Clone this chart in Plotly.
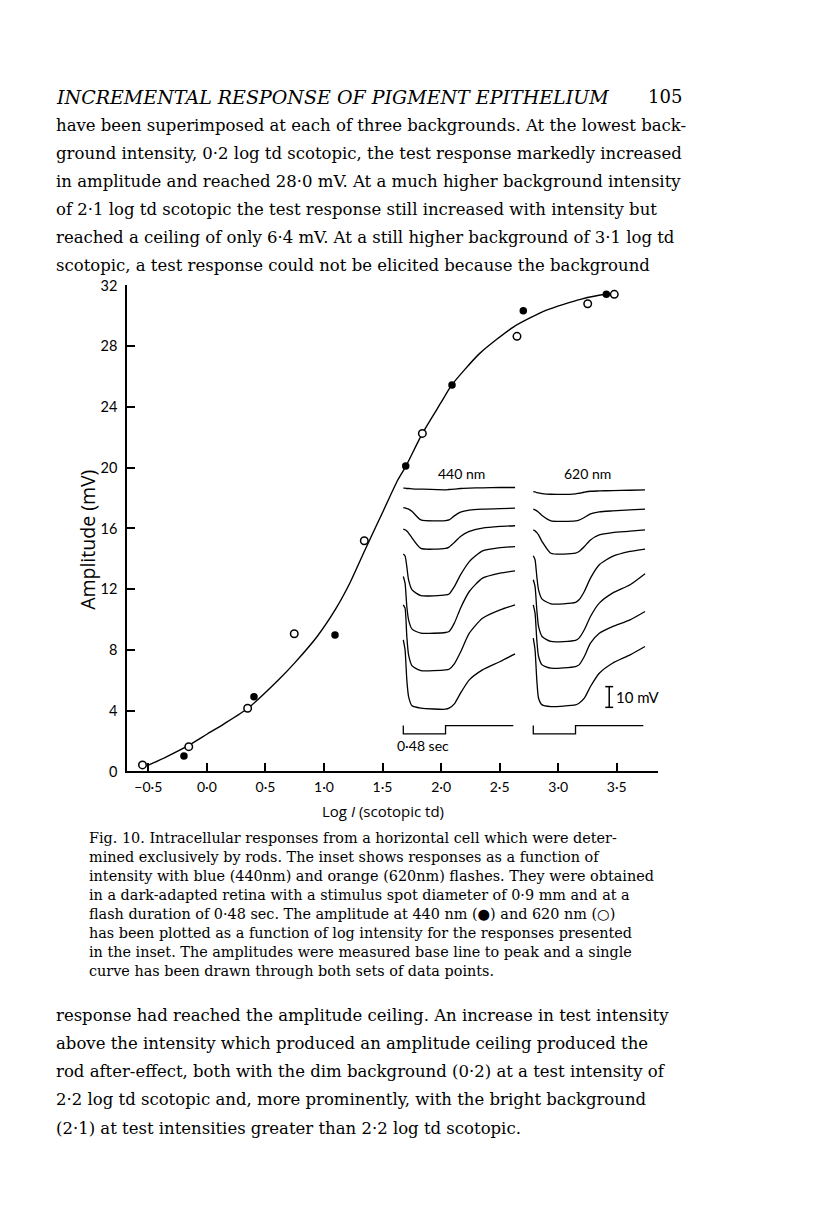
import plotly.graph_objects as go

# window is 816x1221; the page body has an 8px margin, so the figure is
# drawn 8px in from the top-left corner and kept small enough to fit the window
PAGE_W, PAGE_H = 816, 1221
OFF = 8
W, H = PAGE_W - 2 * OFF, 1180
# measured vertical calibration of the photographed page
V_SCALE, V_SHIFT = 0.9853, 9.4

# ---------------- data (main graph) ----------------
open_x = [-0.55, -0.155, 0.348, 0.746, 1.344, 1.84, 2.648, 3.252, 3.479]
open_y = [0.43, 1.63, 4.16, 9.07, 15.19, 22.26, 28.65, 30.8, 31.42]
filled_x = [-0.196, 0.402, 1.094, 1.698, 2.093, 2.702, 3.411]
filled_y = [1.02, 4.92, 8.99, 20.11, 25.44, 30.34, 31.42]
curve_x = [-0.51, -0.35, -0.16, 0.0, 0.15, 0.35, 0.61, 0.75, 0.94, 1.1, 1.22, 1.35,
           1.51, 1.63, 1.7, 1.84, 2.0, 2.09, 2.33, 2.62, 2.9, 3.19, 3.41, 3.47]
curve_y = [0.38, 0.95, 1.70, 2.45, 3.15, 4.16, 6.02, 7.15, 8.87, 10.7, 12.39, 14.58,
           17.22, 19.19, 20.11, 22.26, 24.3, 25.44, 27.53, 29.28, 30.38, 31.09, 31.42, 31.44]
x_tick_vals = [-0.5, 0.0, 0.5, 1.0, 1.5, 2.0, 2.5, 3.0, 3.5]
x_tick_text = ["\u22120\u00b75", "0\u00b70", "0\u00b75", "1\u00b70", "1\u00b75",
               "2\u00b70", "2\u00b75", "3\u00b70", "3\u00b75"]
y_tick_vals = [0, 4, 8, 12, 16, 20, 24, 28, 32]

# ---------------- data (inset traces: time in s, voltage in mV) ----------------
trace_t = [0.0, 0.02, 0.04, 0.06, 0.10, 0.20, 0.48, 0.52, 0.58, 0.65, 0.75, 0.90, 1.10, 1.27]
v440 = [
    [0, 0, -0.16, -0.16, -0.32, -0.48, -0.8, -0.64, -0.48, -0.16, 0, 0.16, 0.32, 0.32],
    [0, -0.16, -0.48, -0.8, -1.9, -5.96, -6.28, -5.96, -4.03, -2.25, -1.29, -0.8, -0.48, -0.32],
    [0, -0.32, -0.97, -1.93, -4.35, -9.34, -9.34, -8.7, -6.44, -3.54, -1.13, 0.48, 1.29, 1.61],
    [0, -0.97, -6.12, -12.56, -17.39, -20.13, -19.81, -19.32, -15.78, -10.14, -3.7, 1.45, 3.06, 3.54],
    [0, -3.22, -14.49, -20.93, -25.44, -27.38, -27.05, -26.57, -22.54, -15.3, -7.25, -0.81, 1.61, 2.74],
    [0, -1.61, -15.3, -24.15, -29.47, -31.72, -31.4, -31.08, -28.5, -22.87, -13.69, -6.44, -2.42, 0],
    [0, -4.83, -19.32, -27.38, -31.88, -33.0, -33.49, -33.0, -30.92, -25.76, -19.32, -14.49, -10.47, -6.76],
]
v620 = [
    [0, -0.16, -0.48, -0.64, -0.97, -1.29, -1.13, -0.8, -0.32, 0.16, 0.32, 0.48, 0.64, 0.8],
    [0, -0.32, -0.8, -1.45, -3.06, -5.64, -5.64, -5.31, -4.03, -2.25, -1.29, -0.8, -0.32, 0],
    [0, -0.48, -1.29, -2.42, -5.64, -11.27, -11.27, -10.47, -8.05, -4.83, -2.42, -1.29, -0.64, 0],
    [0, -1.93, -9.98, -16.43, -20.93, -23.19, -22.54, -21.26, -17.23, -10.79, -4.35, -0.32, 2.09, 3.22],
    [0, -3.22, -14.49, -22.54, -27.38, -29.79, -29.31, -28.18, -24.15, -17.71, -11.27, -6.44, -2.42, 2.9],
    [0, -4.03, -16.91, -24.96, -28.99, -30.6, -29.79, -28.99, -24.96, -18.52, -13.69, -10.47, -7.25, -3.22],
    [0, -5.64, -20.13, -28.99, -32.21, -33.01, -32.21, -31.4, -28.99, -23.35, -16.91, -12.08, -8.05, -4.03],
]
step_t = [0.0, 0.0, 0.48, 0.48, 1.25]
step_v = [0, -4, -4, 0, 0]
flash_duration_label = "0\u00b748 sec"
scale_bar_mv = 10

# ---------------- page text ----------------
header_text = "INCREMENTAL RESPONSE OF PIGMENT EPITHELIUM"
page_number = "105"
top_lines = [
    "have been superimposed at each of three backgrounds. At the lowest back-",
    "ground intensity, 0\u00b72 log td scotopic, the test response markedly increased",
    "in amplitude and reached 28\u00b70 mV. At a much higher background intensity",
    "of 2\u00b71 log td scotopic the test response still increased with intensity but",
    "reached a ceiling of only 6\u00b74 mV. At a still higher background of 3\u00b71 log td",
    "scotopic, a test response could not be elicited because the background",
]
caption_lines = [
    "Fig. 10. Intracellular responses from a horizontal cell which were deter-",
    "mined exclusively by rods. The inset shows responses as a function of",
    "intensity with blue (440nm) and orange (620nm) flashes. They were obtained",
    "in a dark-adapted retina with a stimulus spot diameter of 0\u00b79 mm and at a",
    "flash duration of 0\u00b748 sec. The amplitude at 440 nm (\u25cf) and 620 nm (\u25cb)",
    "has been plotted as a function of log intensity for the responses presented",
    "in the inset. The amplitudes were measured base line to peak and a single",
    "curve has been drawn through both sets of data points.",
]
bottom_lines = [
    "response had reached the amplitude ceiling. An increase in test intensity",
    "above the intensity which produced an amplitude ceiling produced the",
    "rod after-effect, both with the dim background (0\u00b72) at a test intensity of",
    "2\u00b72 log td scotopic and, more prominently, with the bright background",
    "(2\u00b71) at test intensities greater than 2\u00b72 log td scotopic.",
]


def px(x):
    return (x - OFF) / W


def py(y):
    y_adj = (y - V_SHIFT) / V_SCALE
    return 1 - (y_adj - OFF) / H


SANS = "Lato"
TITLE_SANS = "Open Sans"
SERIF = "DejaVu Serif"

fig = go.Figure()

# main curve and points
fig.add_trace(go.Scatter(x=curve_x, y=curve_y, mode="lines",
                         line=dict(color="black", width=1.4, shape="spline", smoothing=0.6),
                         hoverinfo="skip", showlegend=False, cliponaxis=False))
fig.add_trace(go.Scatter(x=filled_x, y=filled_y, mode="markers",
                         marker=dict(symbol="circle", size=7.5, color="black"),
                         showlegend=False, cliponaxis=False))
fig.add_trace(go.Scatter(x=open_x, y=open_y, mode="markers",
                         marker=dict(symbol="circle", size=7.5, color="white",
                                     line=dict(color="black", width=1.5)),
                         showlegend=False, cliponaxis=False))

# inset traces
baseline_440 = [-8.84, -18.2, -28.6, -40.6, -51.5, -65.2, -82.1]
baseline_620 = [-10.5, -19.0, -29.0, -41.5, -53.1, -65.2, -81.3]
panel_shift = 1.477
step_base = -123.5

for vs, base in zip(v440, baseline_440):
    fig.add_trace(go.Scatter(x=trace_t, y=[base + v for v in vs], xaxis="x2", yaxis="y2",
                             mode="lines", line=dict(color="black", width=1.3, shape="spline", smoothing=0.6),
                             hoverinfo="skip", showlegend=False))
for vs, base in zip(v620, baseline_620):
    fig.add_trace(go.Scatter(x=[t + panel_shift for t in trace_t], y=[base + v for v in vs],
                             xaxis="x2", yaxis="y2",
                             mode="lines", line=dict(color="black", width=1.3, shape="spline", smoothing=0.6),
                             hoverinfo="skip", showlegend=False))
for shift in (0.0, panel_shift):
    fig.add_trace(go.Scatter(x=[t + shift for t in step_t], y=[step_base + v for v in step_v],
                             xaxis="x2", yaxis="y2", mode="lines",
                             line=dict(color="black", width=1.3), hoverinfo="skip", showlegend=False))

# scale bar (10 mV)
sb_t, sb_top = 2.34, -104.7
sb_w = 0.045
fig.add_trace(go.Scatter(
    x=[sb_t, sb_t, None, sb_t - sb_w, sb_t + sb_w, None, sb_t - sb_w, sb_t + sb_w],
    y=[sb_top, sb_top - scale_bar_mv, None, sb_top, sb_top, None, sb_top - scale_bar_mv, sb_top - scale_bar_mv],
    xaxis="x2", yaxis="y2", mode="lines", line=dict(color="black", width=1.5),
    hoverinfo="skip", showlegend=False))

ann = []
# axis titles
ann.append(dict(x=px(383), y=py(811), xref="paper", yref="paper",
                text="Log <i>I</i> (scotopic td)", showarrow=False,
                font=dict(family=TITLE_SANS, size=15, color="black"), xanchor="center", yanchor="middle"))
ann.append(dict(x=px(88), y=py(540), xref="paper", yref="paper",
                text="Amplitude (mV)", showarrow=False, textangle=-90,
                font=dict(family=TITLE_SANS, size=19.5, color="black"), xanchor="center", yanchor="middle"))
# inset labels
ann.append(dict(x=0.663, y=-1.9, xref="x2", yref="y2", text="440 nm", showarrow=False,
                font=dict(family=SANS, size=14, color="black"), xanchor="center", yanchor="middle"))
ann.append(dict(x=0.663 + panel_shift - 0.05, y=-1.9, xref="x2", yref="y2", text="620 nm", showarrow=False,
                font=dict(family=SANS, size=14, color="black"), xanchor="center", yanchor="middle"))
ann.append(dict(x=0.227, y=-132.9, xref="x2", yref="y2", text=flash_duration_label, showarrow=False,
                font=dict(family=SANS, size=14, color="black"), xanchor="center", yanchor="middle"))
ann.append(dict(x=2.39, y=-109.5, xref="x2", yref="y2", text="%d mV" % scale_bar_mv, showarrow=False,
                font=dict(family=SANS, size=15, color="black"), xanchor="left", yanchor="middle"))

# page text
ann.append(dict(x=px(54), y=py(97), xref="paper", yref="paper", text="<i>%s</i>" % header_text,
                showarrow=False, font=dict(family=SERIF, size=19, color="black"),
                xanchor="left", yanchor="middle"))
ann.append(dict(x=px(684), y=py(97), xref="paper", yref="paper", text=page_number,
                showarrow=False, font=dict(family=SERIF, size=18, color="black"),
                xanchor="right", yanchor="middle"))
for i, line in enumerate(top_lines):
    ann.append(dict(x=px(54), y=py(126 + 28 * i), xref="paper", yref="paper", text=line,
                    showarrow=False, font=dict(family=SERIF, size=16.5, color="black"),
                    xanchor="left", yanchor="middle"))
for i, line in enumerate(caption_lines):
    ann.append(dict(x=px(87), y=py(838 + 19 * i), xref="paper", yref="paper", text=line,
                    showarrow=False, font=dict(family=SERIF, size=14.4, color="black"),
                    xanchor="left", yanchor="middle"))
for i, line in enumerate(bottom_lines):
    ann.append(dict(x=px(54), y=py(1015 + 28.3 * i), xref="paper", yref="paper", text=line,
                    showarrow=False, font=dict(family=SERIF, size=16.5, color="black"),
                    xanchor="left", yanchor="middle"))

fig.update_layout(
    width=W, height=H,
    margin=dict(l=0, r=0, t=0, b=0),
    paper_bgcolor="white", plot_bgcolor="rgba(0,0,0,0)",
    showlegend=False,
    xaxis=dict(domain=[px(127), px(657.7)], range=[-0.6823, 3.8497],
               tickvals=x_tick_vals, ticktext=x_tick_text, ticks="inside", ticklen=9,
               tickwidth=1.5, tickcolor="black", showline=True, linecolor="black", linewidth=1.6,
               showgrid=False, zeroline=False, tickfont=dict(family=SANS, size=14, color="black"),
               ticklabelstandoff=2, anchor="y", fixedrange=True),
    yaxis=dict(domain=[py(771.5), py(285.7)], range=[0, 32],
               tickvals=y_tick_vals, ticks="inside", ticklen=8, tickwidth=1.5, tickcolor="black",
               showline=True, linecolor="black", linewidth=1.6, showgrid=False, zeroline=False,
               tickfont=dict(family=SANS, size=14.5, color="black"), ticklabelstandoff=5,
               anchor="x", fixedrange=True),
    xaxis2=dict(domain=[px(395), px(660)], range=[-0.0943, 2.917], visible=False,
                anchor="y2", fixedrange=True),
    yaxis2=dict(domain=[py(760), py(470)], range=[-140.1, 0], visible=False,
                anchor="x2", fixedrange=True),
    annotations=ann,
)

fig.write_html("out.html")
